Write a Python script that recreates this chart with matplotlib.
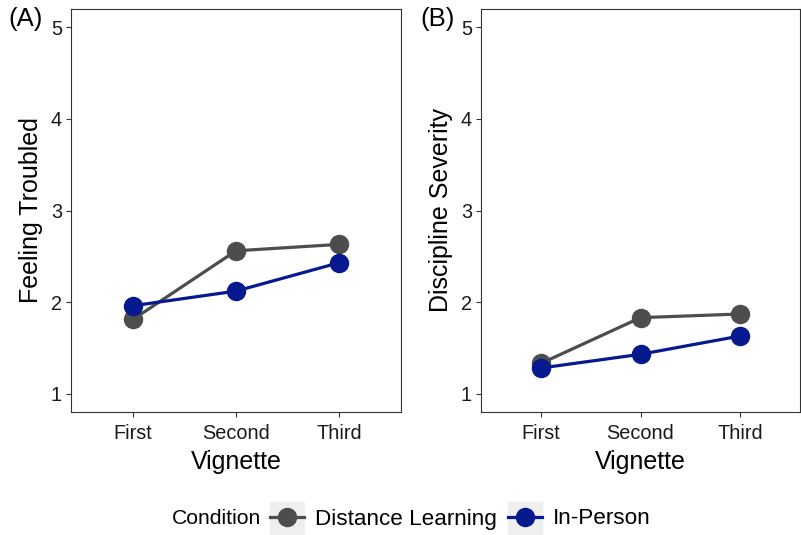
import numpy as np
import matplotlib.pyplot as plt
from matplotlib.lines import Line2D
from matplotlib.patches import Rectangle

plt.rcParams['font.family'] = ['Liberation Sans', 'DejaVu Sans']

# data
vignettes = ['First', 'Second', 'Third']
conditions = ['Distance Learning', 'In-Person']
troubled_distance = [1.81, 2.56, 2.63]
troubled_inperson = [1.96, 2.12, 2.43]
discipline_distance = [1.33, 1.83, 1.87]
discipline_inperson = [1.28, 1.43, 1.63]
yticks = [1, 2, 3, 4, 5]

col_dist = '#4D4D4D'
col_inp = '#07198E'

fig = plt.figure(figsize=(8.01, 5.35), dpi=100)
axA = fig.add_axes([71/801, 1-412/535, 330/801, 403/535])
axB = fig.add_axes([481/801, 1-412/535, 319/801, 403/535])


def panel(ax, dist, inp, ylabel, tag):
    x = np.arange(1, len(vignettes)+1)
    ax.plot(x, dist, '-o', color=col_dist, lw=2.3, ms=13, zorder=3)
    ax.plot(x, inp, '-o', color=col_inp, lw=2.3, ms=13, zorder=4)
    ax.set_xlim(0.4, 3.6)
    ax.set_ylim(0.8, 5.2)
    ax.set_xticks(x)
    ax.set_xticklabels(vignettes)
    ax.set_yticks(yticks)
    ax.tick_params(length=3.5, width=0.8, color='#333333', labelsize=14.3,
                   labelcolor='#1a1a1a', pad=3)
    ax.tick_params(axis='x', pad=5)
    for s in ax.spines.values():
        s.set_color('#333333')
        s.set_linewidth(0.8)
    ax.set_xlabel('Vignette', fontsize=18, labelpad=5)
    ax.set_ylabel(ylabel, fontsize=18, labelpad=6)
    ax.text(-0.19, 1.005, tag, transform=ax.transAxes, fontsize=18.5,
            va='top', ha='left')


panel(axA, troubled_distance, troubled_inperson, 'Feeling Troubled', '(A)')
panel(axB, discipline_distance, discipline_inperson, 'Discipline Severity', '(B)')

# legend at the bottom
for x0 in [270, 508]:
    fig.patches.append(Rectangle((x0/801, 0/535), 34/801, 33/535,
                                 transform=fig.transFigure, color='#EFEFEF',
                                 zorder=0))
handles = [Line2D([], [], color=c, lw=2.3, marker='o', ms=13)
           for c in [col_dist, col_inp]]
fig.text(172/801, 1-519/535, 'Condition', fontsize=15.2, va='center')
fig.legend(handles, conditions, loc='center left', ncol=2,
           bbox_to_anchor=(261/801, 1-519/535), frameon=False,
           fontsize=16.2, handlelength=1.5, handletextpad=0.5,
           columnspacing=0.5, borderaxespad=0)

fig.savefig('out.png', dpi=100)
